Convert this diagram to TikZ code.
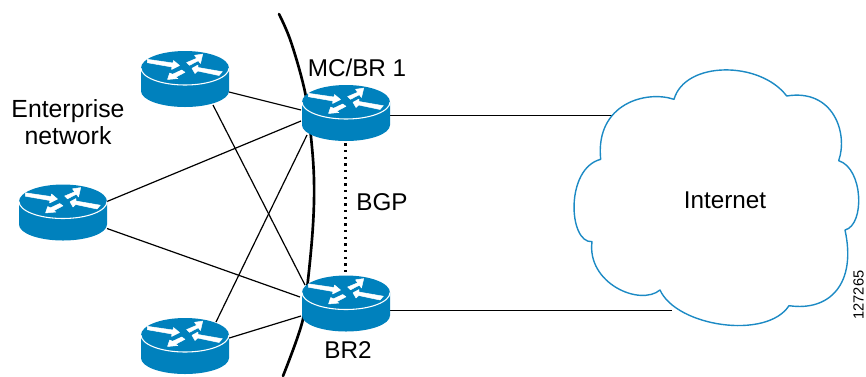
\documentclass[tikz,border=0pt]{standalone}
\usepackage{fontspec}
\setmainfont{Liberation Sans}
\usetikzlibrary{calc,arrows.meta}
\definecolor{routerblue}{RGB}{0,129,189}
\definecolor{cloudblue}{RGB}{28,138,196}
\tikzset{
  x=0.75pt,y=-0.75pt,
  routerbox/.style={minimum width=66pt,minimum height=42pt,inner sep=0pt,draw=none},
  link/.style={black,line width=0.9pt},
  cloudline/.style={cloudblue,line width=1.05pt,line join=round},
  label/.style={font=\fontsize{18.2pt}{20pt}\selectfont,inner sep=0pt,text=black,align=center},
  arrowshape/.style={fill=white,draw=white,line width=0.35pt,line join=round},
  pics/router/.style={code={
    \fill[routerblue] (-44,-11) -- (-44,12) arc[start angle=180,end angle=0,x radius=44,y radius=16] -- (44,-11)
      arc[start angle=0,end angle=-180,x radius=44,y radius=17] -- cycle;
    \draw[white,line width=0.8pt] (-44,-11) arc[start angle=180,end angle=0,x radius=44,y radius=17];
    \path[arrowshape] (-37.7,-19.7) -- (-12,-16) -- (-11.5,-18.5) -- (-5.5,-13.5) -- (-13.5,-9.5) -- (-13,-12) -- (-37.7,-16.3) -- cycle;
    \path[arrowshape] (37.3,-7.3) -- (13,-11.5) -- (13,-14) -- (7,-10.7) -- (10,-5.5) -- (12.7,-8) -- (34,-3.5) -- cycle;
    \path[arrowshape] (1.7,-16.5) -- (4.5,-13.7) -- (13.3,-18.3) -- (15.5,-15.5) -- (17.7,-24.9) -- (9.5,-23.7) -- (11.7,-20.7) -- cycle;
    \path[arrowshape] (-3.3,-9) -- (0,-6.7) -- (-9.5,-1.7) -- (-7,-0.5) -- (-17.5,0.5) -- (-15.3,-6) -- (-12.5,-4.7) -- cycle;
  }}
}
\begin{document}
\begin{tikzpicture}
\useasboundingbox (0,0) rectangle (866,376);
% router boxes
\node[routerbox] (r1) at (185,79) {};
\node[routerbox] (mc) at (346,113) {};
\node[routerbox] (r2) at (63,212.5) {};
\node[routerbox] (br) at (346,303.5) {};
\node[routerbox] (r3) at (185,346) {};
% cloud anchors
\coordinate (cloudA) at (612,115.5);
\coordinate (cloudB) at (672,310.5);
% boundary arc
\draw[black,line width=2pt,line cap=round] plot[smooth,tension=0.6] coordinates {(279,14) (291,42) (305,92) (311,137) (314,180) (313,225) (308,280) (302,323) (283,376)};
% connectors
\draw[link] ($(r1)+(44,13)$) -- ($(mc)+(-45,-3)$);
\draw[link] ($(r1)+(28,26)$) -- ($(br)+(-41,-18.5)$);
\draw[link] ($(r2)+(44,-11)$) -- ($(mc)+(-45,8)$);
\draw[link] ($(r2)+(44,16)$) -- ($(br)+(-46,-6.5)$);
\draw[link] ($(r3)+(31,-24)$) -- ($(mc)+(-39,22)$);
\draw[link] ($(r3)+(41,-7)$) -- ($(br)+(-45,12.5)$);
\draw[link] (mc.east |- cloudA) -- (cloudA);
\draw[link] (br.east |- cloudB) -- (cloudB);
\draw[black,line width=1.7pt,dash pattern=on 1.7pt off 3.3pt] ($(mc.south)+(-0.5,2)$) -- ($(br.north)+(-0.5,-3)$);
% routers
\pic at (r1) {router};
\pic at (mc) {router};
\pic at (r2) {router};
\pic at (br) {router};
\pic at (r3) {router};
% cloud
\begin{scope}[shift={(570,70)},x=0.25pt,y=-0.25pt]
\draw[cloudline] (312,88) .. controls (345,-28) and (570,-28) .. (650,78)
  .. controls (790,55) and (835,190) .. (806,272)
  .. controls (880,295) and (885,465) .. (825,480)
  .. controls (860,640) and (780,725) .. (657,707)
  .. controls (590,810) and (320,770) .. (270,660)
  .. controls (210,710) and (50,640) .. (66,515)
  .. controls (-5,520) and (-15,295) .. (92,268)
  .. controls (75,100) and (230,60) .. (312,88) -- cycle;
\end{scope}
% labels
\node[label,font=\fontsize{18.6pt}{20pt}\selectfont] (enterprise) at (68,122) {Enterprise\\network};
\node[label] (mclabel) at (357,68) {MC/BR 1};
\node[label] (bgplabel) at (382,202) {BGP};
\node[label] (brlabel) at (348,350) {BR2};
\node[label] (internet) at (725,200) {Internet};
\node[font=\fontsize{11pt}{13pt}\selectfont,inner sep=0pt,rotate=90] (figid) at (858.5,295) {127265};
\end{tikzpicture}
\end{document}
